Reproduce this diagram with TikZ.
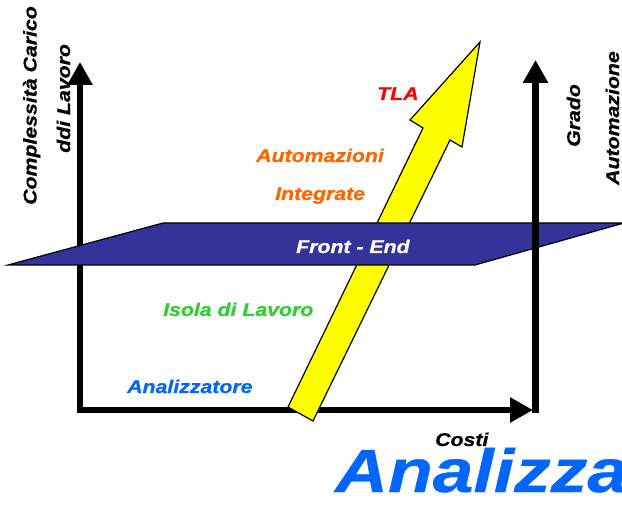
\documentclass[tikz,border=0pt]{standalone}
\usepackage{fontspec}
\setmainfont{Liberation Sans}
\newfontfamily\labfont[FakeStretch=1.15,FakeBold=0.8]{Liberation Sans}
\newfontfamily\bigfont[FakeStretch=1.2,FakeBold=0.6]{Liberation Sans}
\usetikzlibrary{arrows.meta}

\definecolor{planeblue}{HTML}{333399}
\definecolor{arrowyellow}{HTML}{FFFF00}
\definecolor{txtblue}{HTML}{0066FF}
\definecolor{txtgreen}{HTML}{33CC33}
\definecolor{txtorange}{HTML}{FF6600}
\definecolor{txtred}{HTML}{FF0000}

\tikzset{
  lab/.style={font=\labfont\bfseries\itshape\fontsize{18.5}{20}\selectfont,
              inner sep=0pt, anchor=base west},
  vlab/.style={lab, rotate=90},
  axisline/.style={line width=6.5pt, line join=miter},
  axistip/.style={-{Triangle[length=23pt,width=24pt]}},
}

\begin{document}
\begin{tikzpicture}[x=1pt,y=-1pt]
  \clip (0,0) rectangle (622,505);

  % axis end points
  \coordinate (Ybot) at (80,413);
  \coordinate (Ytop) at (80,62);
  \coordinate (Xbeg) at (77,410);
  \coordinate (Xend) at (533,410);
  \coordinate (Rbot) at (535.5,413);
  \coordinate (Rtop) at (535.5,60);

  % left and bottom axes
  \draw[axisline, axistip] (Ybot) -- (Ytop);
  \draw[axisline, axistip] (Xbeg) -- (Xend);

  % rising arrow
  \draw[fill=arrowyellow, line width=1.2pt, line join=miter]
    (288,407) -- (423,128) -- (410,120) -- (480,42) -- (462,147)
    -- (450,140) -- (313,421) -- cycle;

  % front-end plane
  \draw[fill=planeblue, line width=1.2pt]
    (8,265) -- (163,223) -- (624,223) -- (475,265) -- cycle;

  % right axis
  \draw[axisline, axistip] (Rbot) -- (Rtop);

  % labels
  \node[lab, white] (fe) at (296,253) {Front - End};
  \node[lab, txtred] (tla) at (377,100) {TLA};
  \node[lab, txtorange] (auto) at (256,162) {Automazioni};
  \node[lab, txtorange] (integ) at (275,200) {Integrate};
  \node[lab, txtgreen] (isola) at (163,316) {Isola di Lavoro};
  \node[lab, txtblue] (anal) at (127,393) {Analizzatore};
  \node[lab] (costi) at (435,446) {Costi};

  \node[vlab] (ylab1) at (36.5,205) {Complessità Carico};
  \node[vlab] (ylab2) at (70,153) {ddi Lavoro};
  \node[vlab] (rlab1) at (580,147) {Grado};
  \node[vlab] (rlab2) at (619,185) {Automazione};

  \node[inner sep=0pt, anchor=base west, txtblue,
        font=\bigfont\bfseries\itshape\fontsize{61}{64}\selectfont]
        (big) at (335,492) {Analizzatore};
\end{tikzpicture}
\end{document}
